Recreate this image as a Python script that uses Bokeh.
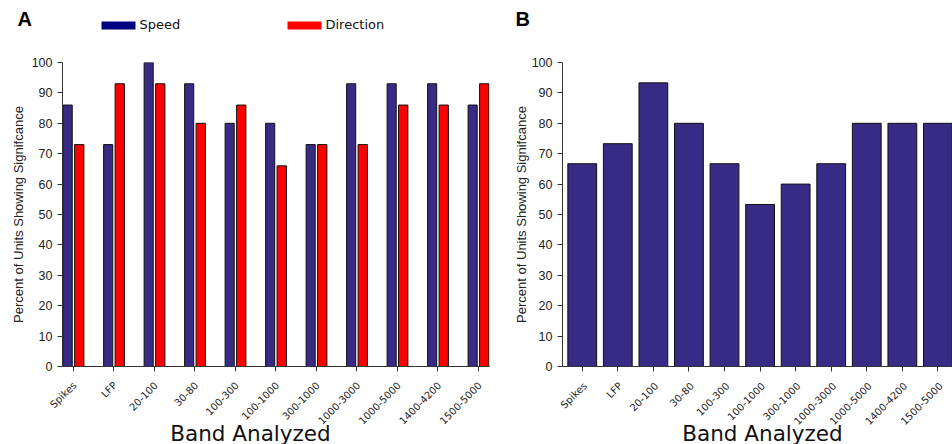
import math
from bokeh.plotting import figure
from bokeh.models import Range1d, FixedTicker, ColumnDataSource
from bokeh.layouts import row, column
from bokeh.core.properties import value
from bokeh.embed import file_html
from bokeh.resources import INLINE

bands = ["Spikes", "LFP", "20-100", "30-80", "100-300", "100-1000", "300-1000",
         "1000-3000", "1000-5000", "1400-4200", "1500-5000"]
speed = [86, 73, 100, 93, 80, 80, 73, 93, 93, 93, 86]
direction = [73, 93, 93, 80, 86, 66, 73, 73, 86, 86, 93]
combined = [66.7, 73.3, 93.3, 80, 66.7, 53.3, 60, 66.7, 80, 80, 80]
y_ticks = list(range(0, 101, 10))
series_names = ["Speed", "Direction"]
panel_letters = ["A", "B"]
x_title = "Band Analyzed"
y_title = "Percent of Units Showing Signifcance"

BAR = "#372b86"
RED = "#ff0000"
LEG_NAVY = "#000080"
AXC = "#222222"

HEADER_H = 40
FOOT_H = 70
MAIN_H = 444 - HEADER_H - FOOT_H
idx = list(range(len(bands)))


def bare(p):
    p.outline_line_color = None
    p.xgrid.visible = False
    p.ygrid.visible = False


def style(p, ylabel_standoff):
    bare(p)
    xa = p.xaxis[0]
    ya = p.yaxis[0]
    xa.ticker = FixedTicker(ticks=idx, minor_ticks=[])
    xa.major_label_overrides = {i: "" for i in idx}
    xa.major_label_text_font_size = "0px"
    xa.major_label_standoff = 0
    xa.major_tick_out = 5
    xa.major_tick_in = 0
    xa.minor_tick_line_color = None
    xa.axis_line_color = "#333333"
    xa.major_tick_line_color = "#333333"
    ya.ticker = FixedTicker(ticks=y_ticks, minor_ticks=[])
    ya.major_label_text_font = "Liberation Sans"
    ya.major_label_text_font_size = "12.5px"
    ya.major_label_text_color = AXC
    ya.axis_label = y_title
    ya.axis_label_text_font = "Liberation Sans"
    ya.axis_label_text_font_size = "13px"
    ya.axis_label_text_font_style = "normal"
    ya.axis_label_text_color = AXC
    ya.axis_label_standoff = ylabel_standoff
    ya.major_tick_out = 5
    ya.major_tick_in = 0
    ya.minor_tick_line_color = None
    ya.axis_line_color = "#333333"
    ya.major_tick_line_color = "#333333"


def footer(x0, x1, width, border_left, border_right, label_dx, label_y, title_px):
    # footer frame spans the full width; extend the panel's x range accordingly
    s = (width - border_left - border_right) / (x1 - x0)
    fx0 = x0 - border_left / s
    fx1 = x1 + border_right / s
    f = figure(width=width, height=FOOT_H, output_backend="svg", toolbar_location=None,
               x_range=Range1d(fx0, fx1), y_range=Range1d(FOOT_H, 0),
               x_axis_type=None, y_axis_type=None,
               min_border_left=0, min_border_right=0,
               min_border_top=0, min_border_bottom=0)
    bare(f)
    f.text(x=[i + label_dx for i in idx], y=[label_y] * len(idx), text=bands,
           angle=math.pi / 4, text_align="right", text_baseline="middle",
           text_font=value("DejaVu Sans"), text_font_size="10px", text_color=AXC)
    f.text(x=[fx0 + title_px / s], y=[58.5], text=[x_title], text_align="center",
           text_baseline="alphabetic", text_font=value("DejaVu Sans"),
           text_font_size="21.5px", text_color="#111111")
    return f


# ---- Header (panel letters + legend) ----
hd = figure(width=952, height=HEADER_H, output_backend="svg", toolbar_location=None,
            x_range=Range1d(0, 952), y_range=Range1d(HEADER_H, 0),
            x_axis_type=None, y_axis_type=None,
            min_border_left=0, min_border_right=0, min_border_top=0, min_border_bottom=0)
bare(hd)
hd.text(x=[17, 515], y=[18, 18], text=panel_letters, text_baseline="alphabetic",
        text_font=value("Liberation Sans"), text_font_style="bold",
        text_font_size="20px", text_color="#000000")
hd.quad(left=[101, 287], right=[135, 321], top=[21, 21], bottom=[29, 29],
        fill_color=[LEG_NAVY, RED], line_color=None)
hd.text(x=[139, 325], y=[23.5, 23.5], text=series_names, text_baseline="alphabetic",
        text_font=value("DejaVu Sans"), text_font_size="13px", text_color="#111111")

# ---- Panel A ----
xA0, xA1 = -0.264, 10.28
pA = figure(width=500, height=MAIN_H, output_backend="svg", toolbar_location=None,
            x_range=Range1d(xA0, xA1), y_range=Range1d(0, 100),
            min_border_left=62, min_border_right=11, min_border_top=62 - HEADER_H,
            min_border_bottom=6)
srcA = ColumnDataSource(dict(
    xs=[i - 0.136 for i in idx], xd=[i + 0.15 for i in idx],
    speed=speed, direction=direction))
pA.vbar(x="xs", top="speed", width=0.225, source=srcA, fill_color=BAR,
        line_color="#111111", line_width=1)
pA.vbar(x="xd", top="direction", width=0.23, source=srcA, fill_color=RED,
        line_color="#111111", line_width=1)
style(pA, 3)

# ---- Panel B ----
xB0, xB1 = -0.555, 10.41
pB = figure(width=452, height=MAIN_H, output_backend="svg", toolbar_location=None,
            x_range=Range1d(xB0, xB1), y_range=Range1d(0, 100),
            min_border_left=62, min_border_right=0, min_border_top=57 - HEADER_H,
            min_border_bottom=8)
srcB = ColumnDataSource(dict(x=idx, combined=combined))
pB.vbar(x="x", top="combined", width=0.81, source=srcB, fill_color=BAR,
        line_color="#111111", line_width=1)
style(pB, 0)

# ---- Footers (rotated band labels + x titles) ----
fA = footer(xA0, xA1, 500, 62, 11, 0.037, 9, 250)
fB = footer(xB0, xB1, 452, 62, 0, 0.08, 9.5, 262)

layout = column(hd, row(pA, pB, spacing=0), row(fA, fB, spacing=0), spacing=0)
open("out.html", "w").write(file_html(layout, INLINE))
